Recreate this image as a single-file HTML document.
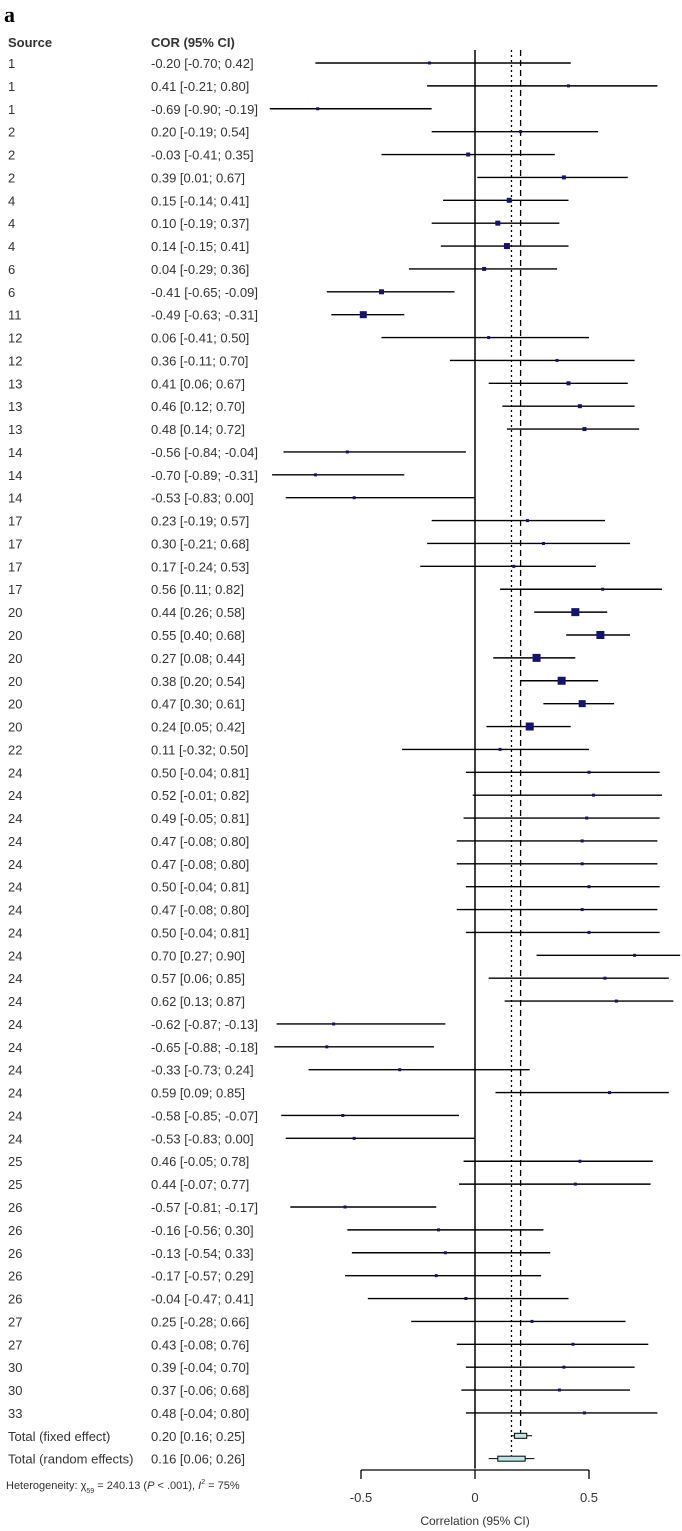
<!DOCTYPE html>
<html><head><meta charset="utf-8"><style>
html,body{margin:0;padding:0;background:#fff;}
svg{display:block;font-family:"Liberation Sans",sans-serif;}
</style></head><body>
<svg id="chart" width="682" height="1531" viewBox="0 0 682 1531">
<text x="4" y="22" font-family="Liberation Serif,serif" font-weight="bold" font-size="22" fill="#000">a</text>
<text x="8" y="47" font-size="13" font-weight="bold" fill="#333">Source</text>
<text x="151" y="47" font-size="13" font-weight="bold" fill="#333">COR (95% CI)</text>
<g id="rows"></g>
</svg>
<script>
const sources = ["1","1","1","2","2","2","4","4","4","6","6","11","12","12","13","13","13","14","14","14","17","17","17","17","20","20","20","20","20","20","22","24","24","24","24","24","24","24","24","24","24","24","24","24","24","24","24","24","25","25","26","26","26","26","26","27","27","30","30","33"];
const est = [-0.20,0.41,-0.69,0.20,-0.03,0.39,0.15,0.10,0.14,0.04,-0.41,-0.49,0.06,0.36,0.41,0.46,0.48,-0.56,-0.70,-0.53,0.23,0.30,0.17,0.56,0.44,0.55,0.27,0.38,0.47,0.24,0.11,0.50,0.52,0.49,0.47,0.47,0.50,0.47,0.50,0.70,0.57,0.62,-0.62,-0.65,-0.33,0.59,-0.58,-0.53,0.46,0.44,-0.57,-0.16,-0.13,-0.17,-0.04,0.25,0.43,0.39,0.37,0.48];
const lower = [-0.70,-0.21,-0.90,-0.19,-0.41,0.01,-0.14,-0.19,-0.15,-0.29,-0.65,-0.63,-0.41,-0.11,0.06,0.12,0.14,-0.84,-0.89,-0.83,-0.19,-0.21,-0.24,0.11,0.26,0.40,0.08,0.20,0.30,0.05,-0.32,-0.04,-0.01,-0.05,-0.08,-0.08,-0.04,-0.08,-0.04,0.27,0.06,0.13,-0.87,-0.88,-0.73,0.09,-0.85,-0.83,-0.05,-0.07,-0.81,-0.56,-0.54,-0.57,-0.47,-0.28,-0.08,-0.04,-0.06,-0.04];
const upper = [0.42,0.80,-0.19,0.54,0.35,0.67,0.41,0.37,0.41,0.36,-0.09,-0.31,0.50,0.70,0.67,0.70,0.72,-0.04,-0.31,0.00,0.57,0.68,0.53,0.82,0.58,0.68,0.44,0.54,0.61,0.42,0.50,0.81,0.82,0.81,0.80,0.80,0.81,0.80,0.81,0.90,0.85,0.87,-0.13,-0.18,0.24,0.85,-0.07,0.00,0.78,0.77,-0.17,0.30,0.33,0.29,0.41,0.66,0.76,0.70,0.68,0.80];
const weights = [3,3,3,3,4,4,5,5,6,4,5,7,3,3,4,4,4,3,3,3,3,3,3,3,8,8,8,8,7,8,3,3,3,3,3,3,3,3,3,3,3,3,3,3,3,3,3,3,3,3,3,3,3,3,3,3,3,3,3,3];
const summaryLabels = ["Total (fixed effect)","Total (random effects)"];
const summaryEst = [0.20,0.16];
const summaryLower = [0.16,0.06];
const summaryUpper = [0.25,0.26];
const ticks = [-0.5,0,0.5];
const tickLabels = ["-0.5","0","0.5"];

const NS="http://www.w3.org/2000/svg";
const g=document.getElementById('rows');
const X0=475, SC=228;
function xs(v){return X0+v*SC;}
const Y1=63, DY=22.88;
function ys(i){return Y1+i*DY;}
function mk(tag,attrs,parent){const e=document.createElementNS(NS,tag);for(const k in attrs)e.setAttribute(k,attrs[k]);(parent||g).appendChild(e);return e;}
function f2(v){return v.toFixed(2);}
function ci(e,l,u){return f2(e)+" [" + f2(l) + "; " + (u>=0?" ":"") + f2(u) + "]";}

const nRows=sources.length;
const yFixed=ys(nRows), yRand=ys(nRows+1);
const zl=mk('line',{x1:xs(0),x2:xs(0),y1:50,y2:yRand+10,stroke:'#000','stroke-width':1.5});


const rl=mk('line',{x1:xs(summaryEst[1]),x2:xs(summaryEst[1]),y1:50,y2:yRand-3,stroke:'#000','stroke-width':1.3,'stroke-dasharray':'2,3'});


const fl=mk('line',{x1:xs(summaryEst[0]),x2:xs(summaryEst[0]),y1:50,y2:yFixed-3,stroke:'#000','stroke-width':1.3,'stroke-dasharray':'6,4'});



for(let i=0;i<nRows;i++){
  const y=ys(i);
  const s=mk('text',{x:8,y:y+5,'font-size':13,fill:'#333'});s.textContent=sources[i];
  
  
  const t=mk('text',{x:151,y:y+5,'font-size':13,fill:'#333'});t.textContent=ci(est[i],lower[i],upper[i]);
  
  
  const l=mk('line',{x1:xs(lower[i]),x2:xs(upper[i]),y1:y,y2:y,stroke:'#000','stroke-width':1.4});
  
  
  const w=weights[i];
  const r=mk('rect',{x:xs(est[i])-w/2,y:y-w/2,width:w,height:w,fill:'#14146e'});
  
  
}
for(let k=0;k<2;k++){
  const y=ys(nRows+k);
  const t=mk('text',{x:8,y:y+5,'font-size':13,fill:'#333'});t.textContent=summaryLabels[k];
  
  
  const c=mk('text',{x:151,y:y+5,'font-size':13,fill:'#333'});c.textContent=ci(summaryEst[k],summaryLower[k],summaryUpper[k]);
  
  
  const l=mk('line',{x1:xs(summaryLower[k]),x2:xs(summaryUpper[k]),y1:y,y2:y,stroke:'#000','stroke-width':1});
  
  
  const half=(summaryUpper[k]-summaryLower[k])*0.3;
  const b=mk('rect',{x:xs(summaryEst[k]-half),y:y-2.5,width:xs(summaryEst[k]+half)-xs(summaryEst[k]-half),height:5,fill:'#bfe6e6',stroke:'#000','stroke-width':1});
  
  
}
const ht=mk('text',{x:6,y:1489,'font-size':11,fill:'#333'});
ht.innerHTML='Heterogeneity: χ<tspan dy="4" font-size="7">59</tspan><tspan dy="-4"> = 240.13 (</tspan><tspan font-style="italic">P</tspan> &lt; .001), <tspan font-style="italic">I</tspan><tspan dy="-5" font-size="7">2</tspan><tspan dy="5"> = 75%</tspan>';


const AY=1470;
const ax=mk('line',{x1:xs(ticks[0]),x2:xs(ticks[ticks.length-1]),y1:AY,y2:AY,stroke:'#000','stroke-width':1.3});


ticks.forEach((v,i)=>{
  const tk=mk('line',{x1:xs(v),x2:xs(v),y1:AY,y2:AY+9,stroke:'#000','stroke-width':1.3});
  
  
  const tl=mk('text',{x:xs(v),y:AY+32,'font-size':13,fill:'#333','text-anchor':'middle'});tl.textContent=tickLabels[i];
  
  
});
const xt=mk('text',{x:xs(0),y:1525,'font-size':12,fill:'#333','text-anchor':'middle'});xt.textContent='Correlation (95% CI)';


</script>
</body></html>
